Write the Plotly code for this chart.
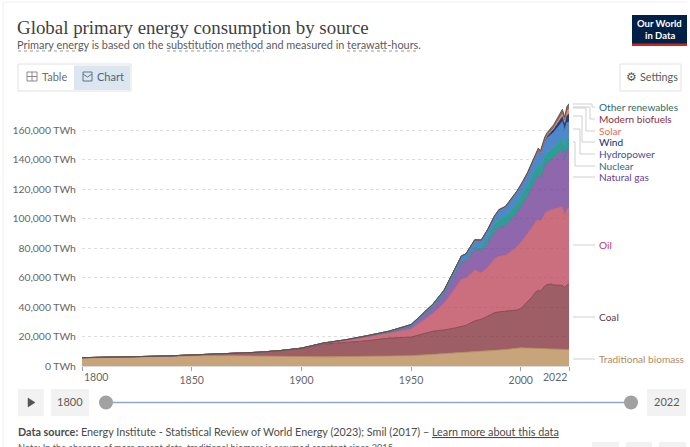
import plotly.graph_objects as go

W, H = 690, 447
L, R, T, B = 82, 121, 100, 81

years = [1800,1810,1820,1830,1840,1850,1860,1870,1880,1890,1900,1910,1920,1930,1940,1950,1960,1965,1970,1973,1975,1979,1982,1985,1988,1990,1993,1995,1998,2000,2003,2005,2007,2008,2009,2011,2012,2014,2015,2019,2020,2021,2022]
biomass = [5556,5700,5972,6250,6528,6944,7222,7000,6800,6500,6111,6200,6389,6667,6944,7000,7900,8300,8800,9300,9500,9900,10100,10300,10600,10800,11200,11500,11900,12300,12200,12100,12000,11900,11900,11800,11700,11500,11400,11200,11100,11100,11100]
coal = [97,128,153,264,356,569,1061,1600,2500,3900,5728,8600,9600,10500,12000,12600,15700,16100,17000,17600,18000,20700,21600,23500,25500,25900,25800,26000,26000,26600,31000,34500,38500,39500,38800,42500,43500,44200,43500,43500,42000,43800,44500]
oil = [0]*10 + [181,500,1300,2400,3300,5444,12000,18000,26700,32000,31800,34300,31500,33000,36500,37700,38000,39500,42500,44600,46000,47000,47800,47800,47500,49000,49500,50500,51500,53300,49400,51100,52400]
gas = [0]*10 + [64,180,250,600,800,2092,4472,6300,10000,11500,11600,14200,14800,16300,18000,19500,20000,21000,23000,24000,25500,27000,29000,30000,29000,32000,33000,34000,34500,39000,38500,40400,39500]
nuclear = [0]*16 + [30,70,230,550,1000,1700,2400,4000,5000,5500,6200,6500,7000,7300,7700,7800,7600,7600,7400,7300,6800,6800,7000,7300,7000,7200,6700]
hydro = [0]*10 + [15,100,200,400,600,930,1900,2500,3300,3700,4000,4600,4900,5500,5800,6200,6600,7000,7200,7400,7600,8100,8500,8800,8900,9500,9900,10300,10400,11300,11500,11400,11300]
wind = [0]*29 + [90,200,280,500,600,750,1200,1400,1900,2200,3500,4000,4700,5500]
solar = [0]*33 + [30,50,190,290,540,680,1900,2200,2800,3600]
biofuels = [0]*25 + [90,100,100,110,110,150,300,600,750,800,1000,1000,1100,1150,1300,1200,1250,1300]
other = [0]*17 + [60,90,110,130,180,200,250,320,380,420,450,500,550,600,680,750,800,900,1000,1100,1200,1250,1800,1900,1950,2000]

x_ticks = [1800, 1850, 1900, 1950, 2000, 2022]
y_ticks = [0, 20000, 40000, 60000, 80000, 100000, 120000, 140000, 160000]

series = [
    ("Traditional biomass", biomass, "rgba(184,139,84,0.78)", "#b08a5c", "#B08A63"),
    ("Coal", coal, "rgba(125,40,50,0.75)", "#7f3a42", "#5B3A4E"),
    ("Oil", oil, "rgba(190,75,95,0.80)", "#c06074", "#B8405E"),
    ("Natural gas", gas, "rgba(110,60,150,0.78)", "#7d5a9c", "#6D3E91"),
    ("Nuclear", nuclear, "rgba(0,135,125,0.82)", "#2a9a90", "#286F7C"),
    ("Hydropower", hydro, "rgba(35,105,190,0.80)", "#4a82c4", "#3C4E9E"),
    ("Wind", wind, "rgba(15,45,110,0.92)", "#1a3a78", "#0F2F6E"),
    ("Solar", solar, "rgba(240,120,100,0.85)", "#ef8e78", "#E56E5A"),
    ("Modern biofuels", biofuels, "rgba(130,60,45,0.85)", "#8f5a4a", "#883039"),
    ("Other renewables", other, "rgba(70,100,70,0.85)", "#4a4a48", "#2C6B66"),
]
label_y = {"Other renewables": 107, "Modern biofuels": 119, "Solar": 131, "Wind": 142,
           "Hydropower": 154, "Nuclear": 166, "Natural gas": 177, "Oil": 245, "Coal": 317,
           "Traditional biomass": 359}
connectors = [(104, 592, 107), (107, 590, 119), (108, 586, 131), (116, 582, 142),
              (129, 580, 154), (142, 575, 166), (177, 584, 177), (245, 584, 245),
              (317, 584, 317), (359, 584, 359)]


def to_paper_x(x):
    return (x - L) / (W - L - R)


def to_paper_y(y):
    return (H - B - y) / (H - T - B)


fig = go.Figure()
for name, values, fill, line, _ in series:
    fig.add_trace(go.Scatter(x=years, y=values, name=name, mode="lines", stackgroup="energy",
                             fillcolor=fill, line=dict(color=line, width=0.8), showlegend=False,
                             hovertemplate="%{x}: %{y:,} TWh<extra>" + name + "</extra>"))

shapes = []
annotations = []


def rect(x0, y0, x1, y1, fill="rgba(0,0,0,0)", line="rgba(0,0,0,0)", width=1):
    shapes.append(dict(type="rect", xref="paper", yref="paper", layer="above",
                       x0=to_paper_x(x0), x1=to_paper_x(x1), y0=to_paper_y(y0), y1=to_paper_y(y1),
                       fillcolor=fill, line=dict(color=line, width=width)))


def seg(pts, color="#cfcfcf", width=1, dash="solid"):
    d = "M " + " L ".join(f"{to_paper_x(a)},{to_paper_y(b)}" for a, b in pts)
    shapes.append(dict(type="path", xref="paper", yref="paper", layer="above", path=d,
                       line=dict(color=color, width=width, dash=dash)))


def text(x, y, s, size=12, color="#5b5b5b", family="Lato", anchor="left"):
    annotations.append(dict(xref="paper", yref="paper", x=to_paper_x(x), y=to_paper_y(y), text=s,
                            showarrow=False, xanchor=anchor, yanchor="middle", align=anchor,
                            font=dict(size=size, color=color, family=family),
                            borderpad=0, borderwidth=0))


# Card edges
seg([(3, 447), (3, 2), (687, 2)], color="#f0f0f0")

# Header
text(17, 27, "Global primary energy consumption by source", size=18.9, color="#414141", family="Liberation Serif, serif")
text(17, 44.5, "Primary energy is based on the substitution method and measured in terawatt-hours.", size=10.9, color="#5b5b5b")
seg([(18, 51), (90, 51)], color="#999", dash="dot")
seg([(167, 51), (264, 51)], color="#999", dash="dot")
seg([(347, 51), (419, 51)], color="#999", dash="dot")

# Logo
rect(632, 15, 687, 46, fill="#002147")
rect(632, 43.5, 687, 46, fill="#CE261E")
text(659.5, 24, "<b>Our World</b>", size=9.5, color="#ffffff", anchor="center")
text(659.5, 35, "<b>in Data</b>", size=9.5, color="#ffffff", anchor="center")

# Table / Chart tabs
rect(18, 64, 131, 91, fill="#ffffff", line="#e2e2e2")
rect(74, 65.5, 130, 90, fill="#DCE6F1")
rect(27, 72, 37, 81, line="#8a8a8a")
seg([(27, 76.5), (37, 76.5)], color="#8a8a8a")
seg([(32, 72), (32, 81)], color="#8a8a8a")
text(42, 76.5, "Table", size=11, color="#6e6e6e")
rect(83, 72, 92, 81, line="#5f7488")
seg([(83, 74), (87.5, 77), (92, 74)], color="#5f7488")
text(97, 76.5, "Chart", size=11, color="#4f6478")

# Settings
rect(620, 64, 681, 91, fill="#ffffff", line="#e2e2e2")
text(631, 77, "\u2699", size=12, color="#555555", family="DejaVu Sans", anchor="center")
text(640, 76.5, "Settings", size=10.8, color="#5b5b5b")

# Direct labels and connectors
for y0, xe, y1 in connectors:
    if y0 == y1:
        seg([(573, y0), (595, y1)])
    else:
        seg([(573, y0), (xe, y0), (xe, y1), (595, y1)])
for name, _, _, _, label_color in series:
    text(599, label_y[name], name, size=10.1, color=label_color)

# End tick labels, kept inside the plot span
annotations.append(dict(x=1800, xref="x", y=0, yref="paper", yshift=-11, text="1800", showarrow=False,
                        xanchor="left", yanchor="middle", font=dict(size=10.5, color="#666666", family="Lato")))
annotations.append(dict(x=2022, xref="x", y=0, yref="paper", yshift=-11, text="2022", showarrow=False,
                        xanchor="right", yanchor="middle", font=dict(size=10.5, color="#666666", family="Lato")))

# Timeline controls
rect(18, 389, 44, 416, fill="#f2f2f2")
shapes.append(dict(type="path", xref="paper", yref="paper", layer="above",
                   path=f"M {to_paper_x(28)},{to_paper_y(398)} L {to_paper_x(35)},{to_paper_y(402.5)} L {to_paper_x(28)},{to_paper_y(407)} Z",
                   fillcolor="#555555", line=dict(color="#555555", width=0.5)))
rect(51, 389, 89, 416, fill="#f2f2f2")
text(70, 401, "1800", size=11, color="#5b5b5b", anchor="center")
seg([(113, 402.5), (624, 402.5)], color="#8fa6c4", width=1.5)
for cx in (106, 631):
    shapes.append(dict(type="circle", xref="paper", yref="paper", layer="above",
                       x0=to_paper_x(cx - 7), x1=to_paper_x(cx + 7), y0=to_paper_y(409.5), y1=to_paper_y(395.5),
                       fillcolor="#a1a1a1", line=dict(color="#a1a1a1", width=0)))
rect(647, 389, 686, 416, fill="#f2f2f2")
text(666.5, 401, "2022", size=11, color="#5b5b5b", anchor="center")

# Footer
text(18, 431.5, "<b>Data source:</b> Energy Institute - Statistical Review of World Energy (2023); Smil (2017) \u2013 <u>Learn more about this data</u>", size=10.8, color="#4a4a4a")
for a, b in ((592, 619), (626, 652), (659, 686)):
    rect(a, 442, b, 447, fill="#f2f2f2")
text(18, 447.5, "Note: In the absence of more recent data, traditional biomass is assumed constant since 2015.", size=9.2, color="#5b5b5b")

fig.update_layout(
    width=W, height=H, autosize=False,
    margin=dict(l=L, r=R, t=T, b=B, pad=0),
    paper_bgcolor="white", plot_bgcolor="white",
    font=dict(family="Lato", color="#666666", size=10.5),
    shapes=shapes, annotations=annotations, showlegend=False,
    xaxis=dict(range=[1800, 2022], tickmode="array", tickvals=x_ticks,
               ticktext=["", "1850", "1900", "1950", "2000", ""],
               showgrid=False, zeroline=False, showline=True, linecolor="#dcdcdc",
               ticks="outside", ticklen=4, tickcolor="#a0a0a0", tickfont=dict(size=10.5, color="#666666")),
    yaxis=dict(range=[0, 180340], tickmode="array", tickvals=y_ticks,
               ticktext=[f"{v:,} TWh" for v in y_ticks],
               showgrid=True, gridcolor="#dddddd", griddash="dot", gridwidth=1, zeroline=False,
               showline=False, ticks="outside", ticklen=3, tickcolor="rgba(0,0,0,0)",
               tickfont=dict(size=10.4, color="#666666")),
)

fig.write_html("out.html", config=dict(displayModeBar=False),
               post_script="document.body.style.margin='0';document.body.style.overflow='hidden';")
